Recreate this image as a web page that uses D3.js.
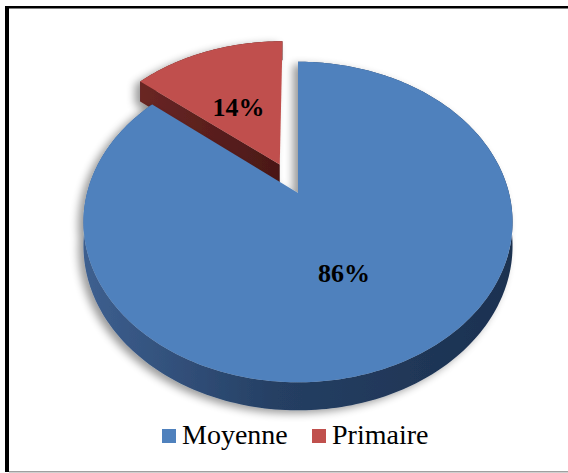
<!DOCTYPE html>
<html>
<head>
<meta charset="utf-8">
<script src="https://cdn.jsdelivr.net/npm/d3@7"></script>
<style>
  html, body { margin: 0; padding: 0; background: #fff; }
  svg { display: block; }
</style>
</head>
<body>
<div id="chart"></div>
<script>
var categories = ["Moyenne", "Primaire"];
var values = [86, 14];
var labels = ["86%", "14%"];
var colors = ["#4f81bd", "#c0504d"];
var explode = [0, 0.21];

var width = 568, height = 473;

// perspective-ish projection of the pie plane
var cx = 298, cy = 193, A = 211, B = 155, k = 0.181, H = 23;

function proj(u, v, h) {
  var s = 1 / (1 - k * v);
  return [cx + A * u * s, cy + (B * v + H * h) * s];
}

function pt(a, r, off, h) {
  return proj(Math.sin(a) * r + off[0], -Math.cos(a) * r + off[1], h);
}

var svg = d3.select("#chart").append("svg")
  .attr("width", width)
  .attr("height", height);

var defs = svg.append("defs");

var f = defs.append("filter").attr("id", "shadow")
  .attr("x", "-20%").attr("y", "-20%").attr("width", "140%").attr("height", "140%");
f.append("feGaussianBlur").attr("in", "SourceAlpha").attr("stdDeviation", 4).attr("result", "b");
f.append("feOffset").attr("in", "b").attr("dx", -5).attr("dy", 3).attr("result", "o");
f.append("feComponentTransfer").attr("in", "o").attr("result", "s")
  .append("feFuncA").attr("type", "linear").attr("slope", 0.4);
var fm = f.append("feMerge");
fm.append("feMergeNode").attr("in", "s");
fm.append("feMergeNode").attr("in", "SourceGraphic");

var gBlue = defs.append("linearGradient").attr("id", "sideBlue")
  .attr("gradientUnits", "userSpaceOnUse")
  .attr("x1", 85).attr("x2", 513).attr("y1", 0).attr("y2", 0);
gBlue.append("stop").attr("offset", 0).attr("stop-color", "#3d5f8f");
gBlue.append("stop").attr("offset", 0.45).attr("stop-color", "#253f63");
gBlue.append("stop").attr("offset", 1).attr("stop-color", "#1c3150");

var gRed = defs.append("linearGradient").attr("id", "sideRed")
  .attr("x1", 0).attr("x2", 1).attr("y1", 0).attr("y2", 0);
gRed.append("stop").attr("offset", 0).attr("stop-color", "#6a2624");
gRed.append("stop").attr("offset", 1).attr("stop-color", "#4a1817");

// frame
svg.append("rect").attr("x", 5).attr("y", 6).attr("width", 4).attr("height", 466).attr("fill", "#000");
svg.append("rect").attr("x", 5).attr("y", 6).attr("width", 563).attr("height", 2.5).attr("fill", "#000");
svg.append("rect").attr("x", 9).attr("y", 471).attr("width", 559).attr("height", 1.5).attr("fill", "#a0a0a0");

var pie = d3.pie().sort(null).value(function(d) { return d; });
var arcs = pie(values);

var line = d3.line();

function arcPoints(a0, a1, off, h) {
  var n = Math.max(2, Math.ceil((a1 - a0) / 0.02));
  return d3.range(n + 1).map(function(i) {
    return pt(a0 + (a1 - a0) * i / n, 1, off, h);
  });
}

// draw back slice (Primaire) first, then Moyenne
var order = [1, 0];

order.forEach(function(i) {
  var d = arcs[i];
  var mid = (d.startAngle + d.endAngle) / 2;
  var off = [Math.sin(mid) * explode[i], -Math.cos(mid) * explode[i]];
  var g = svg.append("g").attr("filter", "url(#shadow)");

  // outer wall
  var top = arcPoints(d.startAngle, d.endAngle, off, 0);
  var bot = arcPoints(d.startAngle, d.endAngle, off, 1).reverse();
  g.append("path")
    .attr("d", line(top.concat(bot)) + "Z")
    .attr("fill", i === 0 ? "url(#sideBlue)" : "#4a1817");

  // radial wall at start angle (faces viewer for the small slice)
  if (i === 1) {
    var c0 = proj(off[0], off[1], 0), c1 = proj(off[0], off[1], 1);
    var o0 = pt(d.startAngle, 1, off, 0), o1 = pt(d.startAngle, 1, off, 1);
    g.append("path")
      .attr("d", line([c0, o0, o1, c1]) + "Z")
      .attr("fill", "url(#sideRed)");
  }

  // top face
  var face = [proj(off[0], off[1], 0)].concat(top);
  g.append("path")
    .attr("d", line(face) + "Z")
    .attr("fill", colors[i]);
});

// data labels
var labelPos = [[344, 282], [238.5, 116]];
svg.selectAll("text.lbl").data(labels).enter().append("text")
  .attr("class", "lbl")
  .attr("x", function(d, i) { return labelPos[i][0]; })
  .attr("y", function(d, i) { return labelPos[i][1]; })
  .attr("text-anchor", "middle")
  .attr("font-family", "'Liberation Serif', 'Times New Roman', serif")
  .attr("font-weight", "bold")
  .attr("font-size", 26)
  .attr("fill", "#000")
  .text(function(d) { return d; });

// legend
var legendX = [162, 312];
var leg = svg.selectAll("g.leg").data(categories).enter().append("g")
  .attr("class", "leg")
  .attr("transform", function(d, i) { return "translate(" + legendX[i] + ",429)"; });
leg.append("rect").attr("width", 14).attr("height", 14)
  .attr("fill", function(d, i) { return colors[i]; });
leg.append("text")
  .attr("x", 20).attr("y", 15)
  .attr("font-family", "'Liberation Serif', 'Times New Roman', serif")
  .attr("font-size", 28)
  .attr("fill", "#000")
  .text(function(d) { return d; });
</script>
</body>
</html>
